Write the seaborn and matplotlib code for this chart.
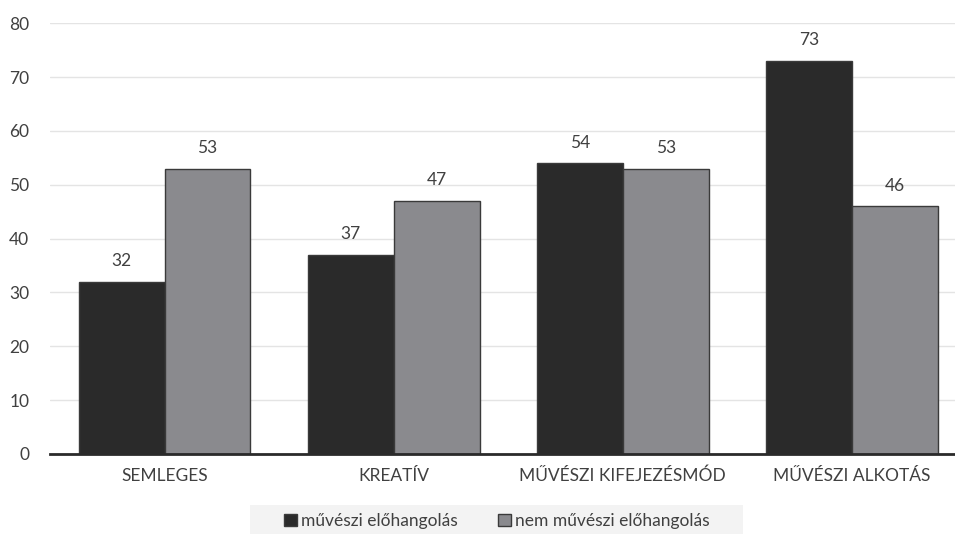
import matplotlib
matplotlib.use("Agg")
import matplotlib.pyplot as plt
import matplotlib.patches as mpatches
import seaborn as sns
import pandas as pd

categories = ["SEMLEGES", "KREATÍV", "MŰVÉSZI KIFEJEZÉSMÓD", "MŰVÉSZI ALKOTÁS"]
series_names = ["művészi előhangolás", "nem művészi előhangolás"]
muveszi = [32, 37, 54, 73]
nem_muveszi = [53, 47, 53, 46]
y_ticks = [0, 10, 20, 30, 40, 50, 60, 70, 80]

df = pd.DataFrame({
    "cat": categories * 2,
    "series": [series_names[0]] * 4 + [series_names[1]] * 4,
    "value": muveszi + nem_muveszi,
})

sns.set_theme(style="white")
plt.rcParams["font.family"] = ["Lato", "DejaVu Sans"]
text_color = "#404040"

fig = plt.figure(figsize=(9.55, 5.34), dpi=100)
ax = fig.add_axes([50 / 955, 80 / 534, 1 - 50 / 955, (454 - 23.3) / 534])

sns.barplot(data=df, x="cat", y="value", hue="series", order=categories,
            hue_order=series_names, palette=["#2a2a2a", "#8a8a8e"],
            width=0.75, edgecolor="#3a3a3a", linewidth=1.0, ax=ax,
            saturation=1, errorbar=None, legend=True)

for cont in ax.containers:
    ax.bar_label(cont, fmt="%d", padding=9, color=text_color, fontsize=12.5)

ax.set_ylim(0, 80)
ax.set_xlim(-0.5, 3.45)
ax.set_yticks(y_ticks)
ax.yaxis.grid(True, color="#e4e4e4", linewidth=1)
ax.set_axisbelow(True)
for s in ["top", "right", "left"]:
    ax.spines[s].set_visible(False)
ax.spines["bottom"].set_color("#2a2a2a")
ax.spines["bottom"].set_linewidth(2)
ax.tick_params(axis="both", length=0, colors=text_color, labelsize=12.5)
ax.tick_params(axis="x", pad=10)
ax.tick_params(axis="y", pad=15)
ax.set_xlabel("")
ax.set_ylabel("")

# legend background band
fig.patches.append(mpatches.Rectangle((250 / 955, 0), (743 - 250) / 955, 29 / 534,
                                      transform=fig.transFigure, facecolor="#f3f3f3",
                                      edgecolor="none", zorder=0))

handles, labels = ax.get_legend_handles_labels()
ax.get_legend().remove()
fig.legend(handles, labels, loc="center", bbox_to_anchor=(497 / 955, 1 - 521 / 534),
           ncol=2, frameon=False, fontsize=12.5, handlelength=0.75, handleheight=0.75,
           handletextpad=0.25, columnspacing=2.3, labelcolor=text_color)

fig.savefig("out.png", dpi=100, facecolor="white")
